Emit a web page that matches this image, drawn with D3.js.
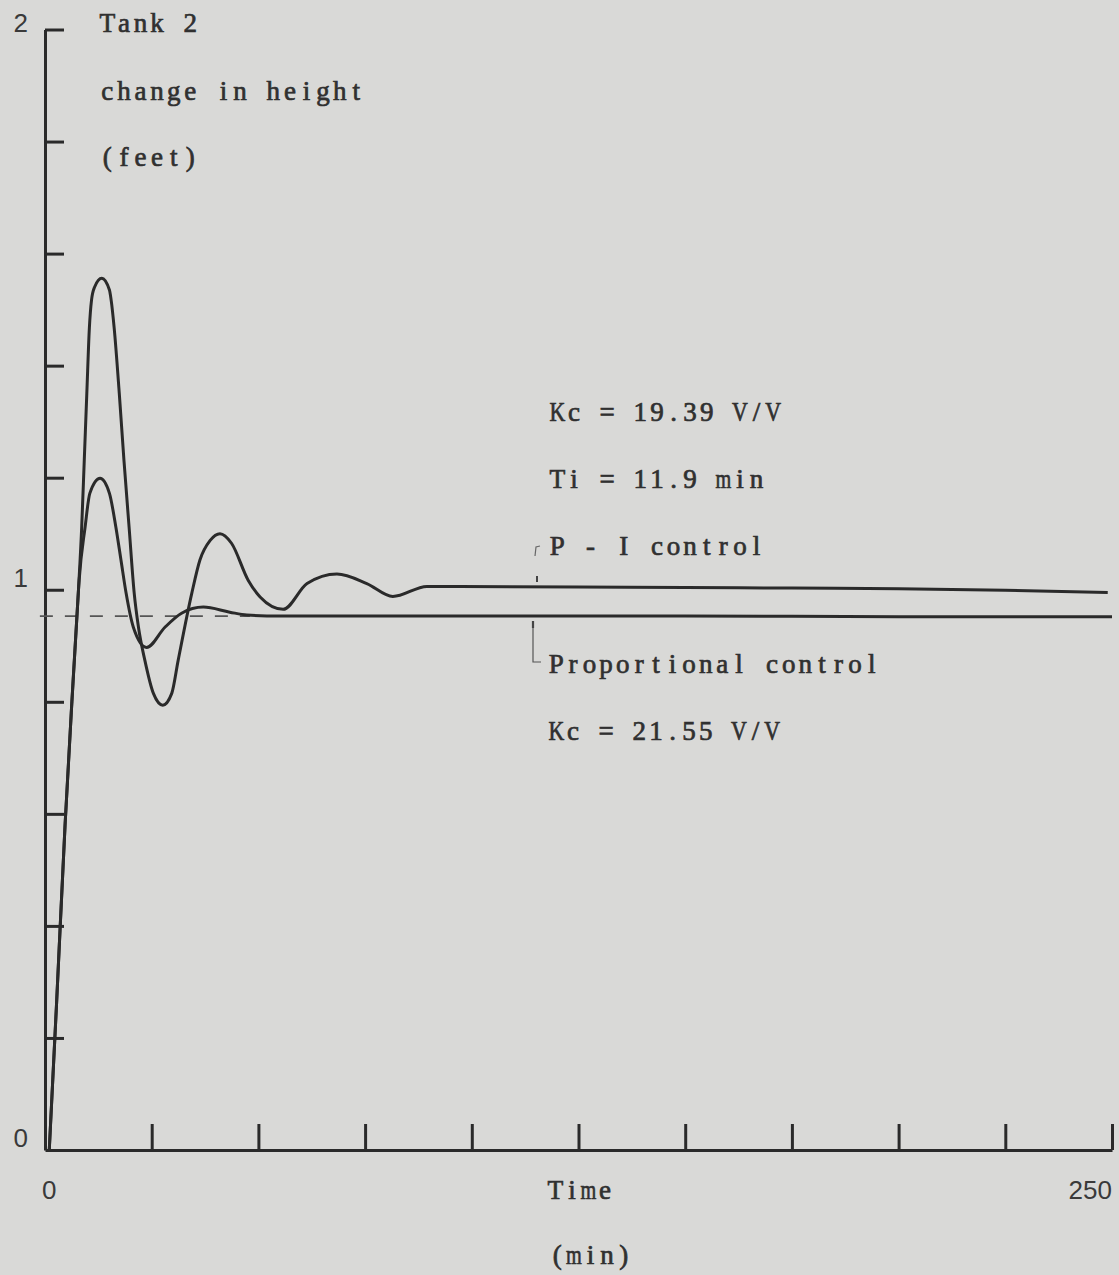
<!DOCTYPE html>
<html>
<head>
<meta charset="utf-8">
<script src="https://cdn.jsdelivr.net/npm/d3@7"></script>
<style>
  body { margin: 0; background: #d9d9d7; }
  svg { display: block; }
</style>
</head>
<body>
<script>
// P - I control response (Kc = 19.39, Ti = 11.9)
const piTime = [1.0, 2.7, 4.7, 6.3, 7.8, 8.6, 9.2, 9.8, 10.4, 10.9, 11.6, 13.3, 15.1, 15.5, 16.2, 17.4, 18.5, 19.7, 20.9, 21.9, 23.4, 25.4, 27.6, 29.7, 31.2, 34.4, 36.3, 38.7, 41.0, 43.7, 47.6, 50.4, 55.8, 61.4, 68.4, 75.4, 81.5, 89.5, 125, 150, 175, 200, 225, 249]
const piHeight = [0, 0.26, 0.58, 0.8, 0.994, 1.112, 1.231, 1.351, 1.468, 1.517, 1.54, 1.556, 1.535, 1.517, 1.468, 1.351, 1.231, 1.112, 0.994, 0.933, 0.874, 0.815, 0.794, 0.815, 0.874, 0.994, 1.053, 1.088, 1.10, 1.083, 1.017, 0.987, 0.965, 1.011, 1.028, 1.011, 0.988, 1.006, 1.005, 1.004, 1.003, 1.002, 0.999, 0.995]

// proportional control response (Kc = 21.55)
const pTime = [1.0, 2.7, 4.7, 6.3, 7.8, 8.0, 9.4, 10.5, 12.9, 15.1, 16.6, 17.8, 19.0, 20.7, 23.8, 28.1, 32.0, 37.1, 43.3, 47.3, 55, 100, 150, 200, 250]
const pHeight = [0, 0.26, 0.58, 0.8, 0.994, 1.017, 1.112, 1.172, 1.199, 1.172, 1.112, 1.053, 0.994, 0.933, 0.897, 0.933, 0.958, 0.969, 0.960, 0.955, 0.953, 0.953, 0.953, 0.952, 0.952]

// dashed reference (steady state of proportional control)
const refTime = [-1.2, 48]
const refHeight = [0.953, 0.953]

const xTicks = [25, 50, 75, 100, 125, 150, 175, 200, 225, 250]
const yTicks = [0.2, 0.4, 0.6, 0.8, 1.0, 1.2, 1.4, 1.6, 1.8, 2.0]
const xLabelValues = [0, 250]
const xLabelText = ["0", "250"]
const yLabelValues = [0, 1, 2]
const yLabelText = ["0", "1", "2"]

const width = 1119, height = 1275
const ink = "#2a2a2a"
const serif = "'Liberation Serif', serif"
const sans = "'Liberation Sans', Arial, sans-serif"

const svg = d3.select("body").append("svg")
    .attr("width", width)
    .attr("height", height)

svg.append("rect").attr("width", width).attr("height", height).attr("fill", "#d9d9d7")

const x = d3.scaleLinear().domain([0, 250]).range([45, 1112])
const y = d3.scaleLinear().domain([0, 2]).range([1150, 29.5])

// axes
svg.append("g")
    .attr("transform", "translate(0," + y(0) + ")")
    .call(d3.axisBottom(x).tickValues(xTicks).tickSizeInner(-26).tickSizeOuter(0).tickFormat(""))
svg.append("g")
    .attr("transform", "translate(" + x(0) + ",0)")
    .call(d3.axisLeft(y).tickValues(yTicks).tickSizeInner(-19).tickSizeOuter(0).tickFormat(""))

svg.selectAll(".domain, .tick line")
    .attr("stroke", ink)
    .attr("stroke-width", 3)

// tick labels
svg.selectAll(".ylab")
    .data(yLabelValues)
    .enter()
    .append("text")
    .attr("class", "ylab")
    .attr("x", 28)
    .attr("y", d => Math.max(y(d) - 3, 32))
    .attr("text-anchor", "end")
    .attr("font-family", sans)
    .attr("font-size", "26px")
    .attr("fill", "#3a3a3a")
    .text((d, i) => yLabelText[i])

svg.selectAll(".xlab")
    .data(xLabelValues)
    .enter()
    .append("text")
    .attr("class", "xlab")
    .attr("x", d => d == 0 ? x(d) - 3 : x(d))
    .attr("y", 1199)
    .attr("text-anchor", d => d == 0 ? "start" : "end")
    .attr("font-family", sans)
    .attr("font-size", "26px")
    .attr("fill", "#3a3a3a")
    .text((d, i) => xLabelText[i])

// dashed line
const line = d3.line()
    .x(d => x(d[0]))
    .y(d => y(d[1]))

svg.append("path")
    .datum(refTime.map((t, i) => [t, refHeight[i]]))
    .attr("d", line)
    .attr("fill", "none")
    .attr("stroke", "#555")
    .attr("stroke-width", 1.6)
    .attr("stroke-dasharray", "13,12")

// curves
const curve = d3.line()
    .x(d => x(d[0]))
    .y(d => y(d[1]))
    .curve(d3.curveMonotoneX)

svg.append("path")
    .datum(pTime.map((t, i) => [t, pHeight[i]]))
    .attr("d", curve)
    .attr("fill", "none")
    .attr("stroke", ink)
    .attr("stroke-width", 3)
    .attr("stroke-linejoin", "round")

svg.append("path")
    .datum(piTime.map((t, i) => [t, piHeight[i]]))
    .attr("d", curve)
    .attr("fill", "none")
    .attr("stroke", ink)
    .attr("stroke-width", 3)
    .attr("stroke-linejoin", "round")

// typed labels, one glyph per fixed cell like a typewriter
const adv = 16.6
let typeText = (str, x0, yb) => {
    let g = svg.append("g")
    str.split("").forEach((ch, i) => {
        if (ch == " ") return
        let t = g.append("text")
            .attr("font-family", serif)
            .attr("font-size", "27px")
            .attr("fill", "#303030")
            .attr("stroke", "#303030")
            .attr("stroke-width", 0.7)
            .attr("text-anchor", "middle")
            .text(ch)
        let w = t.node().getComputedTextLength()
        let s = Math.min(1, adv * 0.95 / w)
        t.attr("transform", "translate(" + (x0 + (i + 0.5) * adv) + "," + yb + ") scale(" + s + ",1)")
    })
}

const labels = [
    ["Tank 2", 99, 32],
    ["change in height", 99, 100],
    ["(feet)", 99, 166],
    ["Kc = 19.39 V/V", 549, 421],
    ["Ti = 11.9 min", 549, 488],
    ["P - I control", 549, 555],
    ["Proportional control", 548, 673],
    ["Kc = 21.55 V/V", 548, 740],
    ["Time", 547, 1199],
    ["(min)", 549, 1264]
]
labels.forEach(d => typeText(d[0], d[1], d[2]))

// leader marks
svg.append("path")
    .attr("d", "M540,546 L536,547 L535,556")
    .attr("fill", "none").attr("stroke", "#666").attr("stroke-width", 1.2)
svg.append("path")
    .attr("d", "M537,576 L537,582")
    .attr("fill", "none").attr("stroke", "#444").attr("stroke-width", 2)
svg.append("path")
    .attr("d", "M533,622 L533,662 L541,662")
    .attr("fill", "none").attr("stroke", "#555").attr("stroke-width", 1.2)
svg.append("path")
    .attr("d", "M533,621 L533,628")
    .attr("fill", "none").attr("stroke", "#444").attr("stroke-width", 2.2)
</script>
</body>
</html>
